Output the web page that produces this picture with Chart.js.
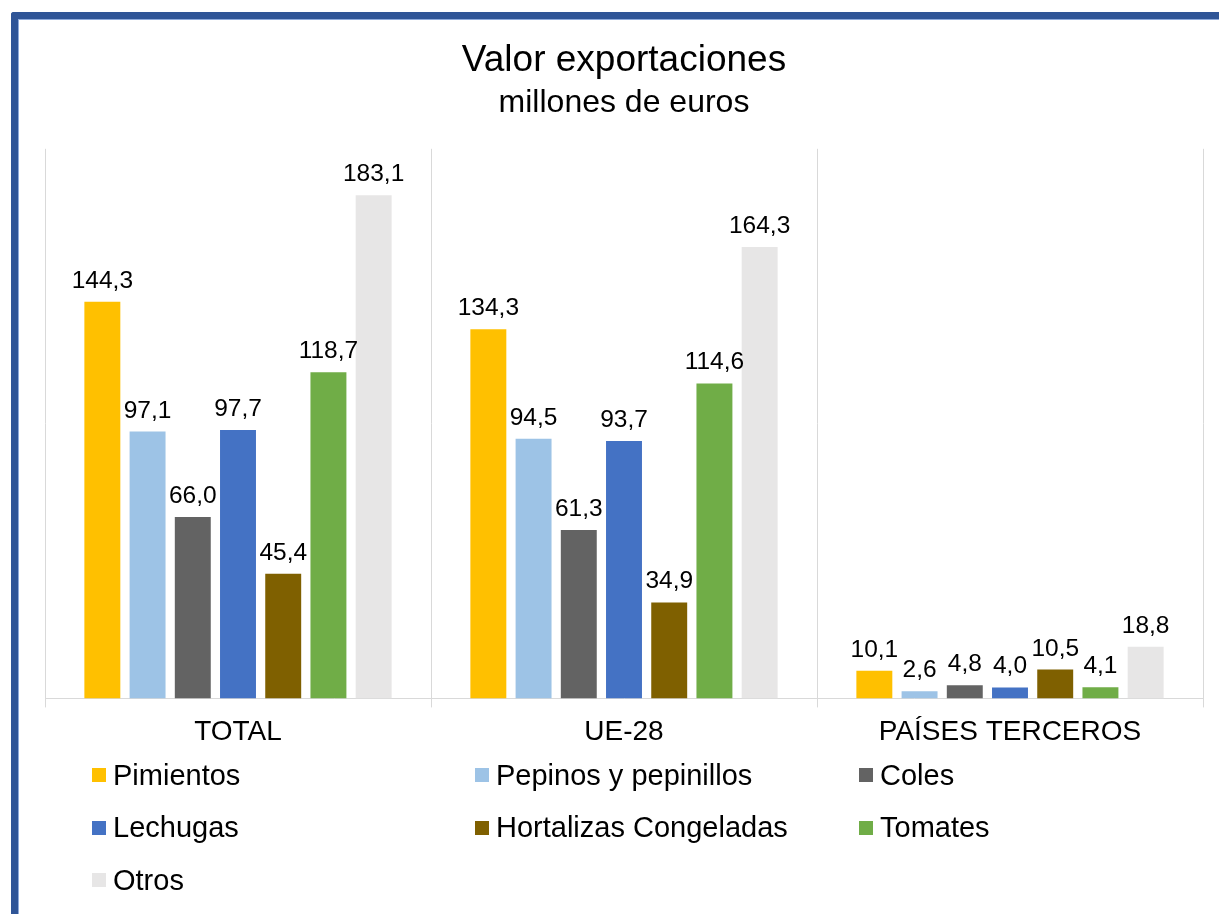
<!DOCTYPE html>
<html lang="es">
<head>
<meta charset="utf-8">
<title>Valor exportaciones</title>
<script src="https://cdn.jsdelivr.net/npm/chart.js@4.4.1/dist/chart.umd.min.js"></script>
<style>
  html, body { margin: 0; padding: 0; background: #fff; overflow: hidden; }
  #wrap { position: relative; width: 1219px; height: 914px; }
  #wrap canvas { position: absolute; left: 0; top: 0; }
  #frame {
    position: absolute; left: 11px; top: 12px; width: 1400px; height: 1100px;
    border-left: 7px solid #2f5597; border-top: 7px solid #2f5597;
    border-top-left-radius: 3px;
    box-shadow: inset 1px 1px 0 #8eaadb;
    pointer-events: none;
  }
  #legend {
    position: absolute; left: 92px; top: 749px;
    display: grid; grid-template-columns: 383px 384px 300px; grid-auto-rows: 52.5px;
    font: 29px "Liberation Sans", Arial, sans-serif; color: #000;
  }
  #legend .item { display: flex; align-items: center; white-space: nowrap; }
  #legend .box { width: 14px; height: 14px; margin-right: 7px; flex: none; }
</style>
</head>
<body>
<div id="wrap">
  <canvas id="chart" width="1219" height="914"></canvas>
  <div id="legend"></div>
  <div id="frame"></div>
</div>
<script>
const FONT = '"Liberation Sans", Arial, sans-serif';

const categories = ['TOTAL', 'UE-28', 'PAÍSES TERCEROS'];
const seriesNames = ['Pimientos', 'Pepinos y pepinillos', 'Coles', 'Lechugas', 'Hortalizas Congeladas', 'Tomates', 'Otros'];
const seriesColors = ['#ffc000', '#9dc3e6', '#636363', '#4472c4', '#7f6000', '#70ad47', '#e7e6e6'];

const pimientos = [144.3, 134.3, 10.1];
const pepinos = [97.1, 94.5, 2.6];
const coles = [66.0, 61.3, 4.8];
const lechugas = [97.7, 93.7, 4.0];
const hortalizas = [45.4, 34.9, 10.5];
const tomates = [118.7, 114.6, 4.1];
const otros = [183.1, 164.3, 18.8];
const seriesValues = [pimientos, pepinos, coles, lechugas, hortalizas, tomates, otros];

const fmt = (v) => v.toFixed(1).replace('.', ',');

// value labels above each bar
const barLabels = {
  id: 'barLabels',
  afterDatasetsDraw(chart) {
    const ctx = chart.ctx;
    ctx.save();
    ctx.font = '24.5px ' + FONT;
    ctx.fillStyle = '#000';
    ctx.textAlign = 'center';
    ctx.textBaseline = 'alphabetic';
    chart.data.datasets.forEach((ds, i) => {
      chart.getDatasetMeta(i).data.forEach((bar, j) => {
        ctx.fillText(fmt(ds.data[j]), bar.x, bar.y - 14);
      });
    });
    ctx.restore();
  },
};

const chart = new Chart(document.getElementById('chart'), {
  type: 'bar',
  data: {
    labels: categories,
    datasets: seriesNames.map((name, i) => ({
      label: name,
      data: seriesValues[i],
      backgroundColor: seriesColors[i],
      categoryPercentage: 0.82,
      barPercentage: 0.795,
    })),
  },
  options: {
    responsive: false,
    animation: false,
    layout: { padding: { left: 45, right: 16, top: 20, bottom: 157 } },
    plugins: {
      legend: { display: false },
      tooltip: { enabled: false },
      title: {
        display: true,
        text: 'Valor exportaciones',
        color: '#000',
        font: { family: FONT, size: 37, weight: 'normal' },
        padding: { top: 19, bottom: 0 },
      },
      subtitle: {
        display: true,
        text: 'millones de euros',
        color: '#000',
        font: { family: FONT, size: 32, weight: 'normal' },
        padding: { top: 1, bottom: 26 },
      },
    },
    scales: {
      x: {
        grid: { color: '#d9d9d9', tickLength: 9, offset: true },
        border: { color: '#d9d9d9' },
        ticks: { color: '#000', font: { family: FONT, size: 28 }, padding: 8 },
      },
      y: { display: false, min: 0, max: 200 },
    },
  },
  plugins: [barLabels],
});

const legendEl = document.getElementById('legend');
legendEl.innerHTML = chart.data.datasets
  .map((ds) => `<div class="item"><span class="box" style="background:${ds.backgroundColor}"></span>${ds.label}</div>`)
  .join('');
</script>
</body>
</html>
